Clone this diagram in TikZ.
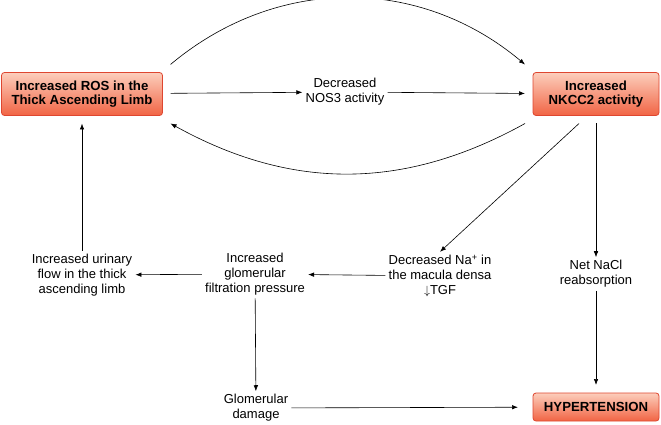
\documentclass[tikz,border=0pt]{standalone}
\usepackage{fontspec}
\setmainfont{Liberation Sans}
\usepackage{xcolor}
\usepackage{tikz}
\usetikzlibrary{arrows.meta,positioning}

\definecolor{boxtop}{RGB}{252,206,188}
\definecolor{boxbot}{RGB}{241,100,68}
\definecolor{boxline}{RGB}{222,70,48}

\begin{document}
\begin{tikzpicture}[x=1pt,y=-1pt,
  box/.style={rectangle,rounded corners=3pt,draw=boxline,line width=0.8pt,
    top color=boxtop,bottom color=boxbot,align=center,outer sep=8pt,
    font=\fontsize{13.2}{14}\selectfont\bfseries},
  txt/.style={align=center,inner sep=3pt,font=\fontsize{13}{15}\selectfont},
  edge/.style={-{Latex[length=6pt,width=4.5pt]},line width=0.6pt}
]
  \useasboundingbox (0,0) rectangle (661,425);

  % Boxes
  \node[box,minimum width=161pt,minimum height=43pt] (ros) at (82,94)
    {Increased ROS in the\\Thick Ascending Limb};
  \node[box,minimum width=126pt,minimum height=43pt] (nkcc) at (596,94)
    {Increased\\NKCC2 activity};
  \node[box,minimum width=126pt,minimum height=28pt] (hyp) at (596,407)
    {HYPERTENSION};

  % Plain text steps
  \node[txt] (nos)  at (345,92)  {Decreased\\NOS3 activity};
  \node[txt] (na)   at (440,276) {Decreased Na\textsuperscript{+} in\\the macula densa\\$\downarrow$TGF};
  \node[txt] (glom) at (255,274) {Increased\\glomerular\\filtration pressure};
  \node[txt] (urin) at (82,275)  {Increased urinary\\flow in the thick\\ascending limb};
  \node[txt] (nacl) at (596,274) {Net NaCl\\reabsorption};
  \node[txt] (dmg)  at (256,408) {Glomerular\\damage};

  % Top row
  \draw[edge] (ros) -- (nos);
  \draw[edge] (nos) -- (nkcc);
  \draw[edge] (ros.north east) to[bend left=40] (nkcc.north west);
  \draw[edge] (nkcc.south west) to[bend left=29] (ros.south east);

  % From NKCC2 downwards
  \draw[edge] ([xshift=-17pt]nkcc.south) -- (na.north);
  \draw[edge] (nkcc) -- (nacl);
  \draw[edge] (nacl) -- (hyp);

  % Feedback row
  \draw[edge] (na) -- (glom);
  \draw[edge] (glom) -- (urin);
  \draw[edge] (urin) -- (ros);
  \draw[edge] (glom) -- (dmg);
  \draw[edge,shorten >=7pt] (dmg) -- (hyp);
\end{tikzpicture}
\end{document}
